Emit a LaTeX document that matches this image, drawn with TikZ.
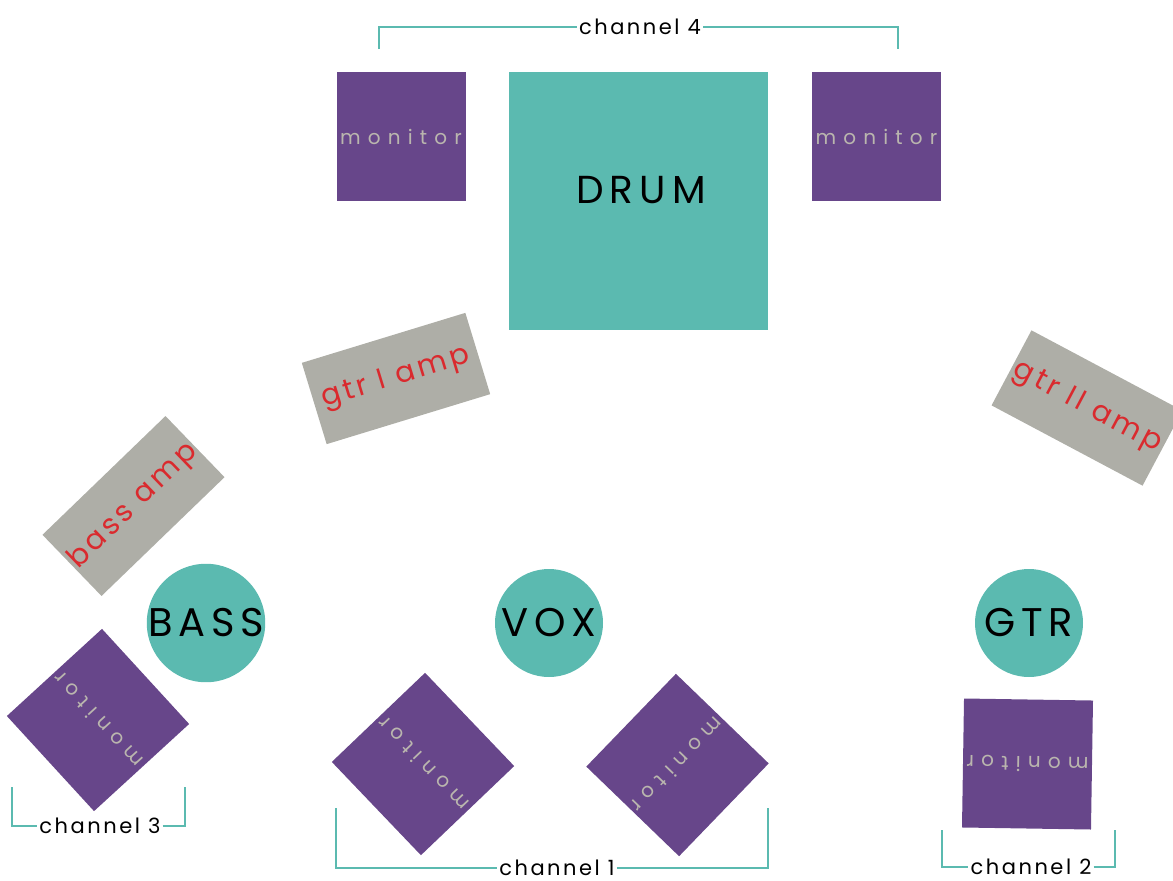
\documentclass[tikz,border=0pt]{standalone}
\usepackage{fontspec}
\setmainfont{Poppins}
\newfontfamily\monfont[LetterSpace=36]{Poppins}
\newfontfamily\ampfont[LetterSpace=12]{Poppins}
\newfontfamily\bigfont[LetterSpace=14]{Poppins}
\newfontfamily\drumfont[LetterSpace=16]{Poppins}
\newfontfamily\chfont[LetterSpace=12]{Poppins}
\definecolor{tealc}{HTML}{5BBAB0}
\definecolor{purp}{HTML}{67468A}
\definecolor{ampgray}{HTML}{AEAEA7}
\definecolor{ampred}{HTML}{DA2A2E}
\definecolor{montext}{HTML}{BAB6AE}
\begin{document}
\begin{tikzpicture}[x=1pt,y=-1pt,
  mon/.style={fill=purp,inner sep=0,minimum width=129pt,minimum height=129pt,
    text=montext,font=\monfont\fontsize{20}{20}\selectfont},
  amp/.style={fill=ampgray,inner sep=0,minimum width=171pt,minimum height=85pt,
    text=ampred,font=\ampfont\fontsize{29}{29}\selectfont},
  player/.style={circle,fill=tealc,inner sep=0,minimum size=108pt,
    font=\bigfont\fontsize{40}{40}\selectfont},
  chlabel/.style={fill=white,inner sep=2pt,font=\chfont\fontsize{21}{21}\selectfont},
  bracket/.style={draw=tealc,line width=1.6pt}]
\useasboundingbox (0,0) rectangle (1173,881);

% drum and top monitors
\node[fill=tealc,inner sep=0,minimum width=259pt,minimum height=258pt] (drum) at (638.5,201) {};
\node[font=\drumfont\fontsize{39}{39}\selectfont] (drumtxt) at (641,190) {DRUM};
\node[mon] (monL) at (401,136.5) {monitor};
\node[mon] (monR) at (876.5,136.5) {monitor};

% channel 4 bracket
\node[chlabel] (ch4) at (640,27) {channel 4};
\coordinate (c4l) at (379,49);
\coordinate (c4r) at (898,49);
\draw[bracket] (c4l) |- (ch4.west);
\draw[bracket] (ch4.east) -| (c4r);

% amps
\node[amp,rotate=17] (gtr1) at (396,378.5) {gtr I amp};
\node[amp,rotate=-28] (gtr2) at (1087,408) {gtr II amp};
\node[amp,rotate=44] (bassamp) at (133.5,506) {bass amp};

% players
\node[player] (bass) at (206,623) {BASS};
\node[player] (vox) at (549,623) {VOX};
\node[player] (gtr) at (1029,623) {GTR};

% floor monitors
\node[mon,rotate=132.5] (monB) at (98,720) {monitor};
\node[mon,rotate=133.7] (mon1L) at (423,764) {monitor};
\node[mon,rotate=226] (mon1R) at (677.5,765) {monitor};
\node[mon,rotate=179.1] (monG) at (1027.5,764) {monitor};

% channel 3
\node[chlabel] (ch3) at (100,826) {channel 3};
\coordinate (c3l) at (12,787);
\coordinate (c3r) at (185,787);
\draw[bracket] (c3l) |- (ch3.west);
\draw[bracket] (ch3.east) -| (c3r);

% channel 1
\node[chlabel] (ch1) at (557,868) {channel 1};
\coordinate (c1l) at (336,808);
\coordinate (c1r) at (768,808);
\draw[bracket] (c1l) |- (ch1.west);
\draw[bracket] (ch1.east) -| (c1r);

% channel 2
\node[chlabel] (ch2) at (1031,867) {channel 2};
\coordinate (c2l) at (942,830);
\coordinate (c2r) at (1115,830);
\draw[bracket] (c2l) |- (ch2.west);
\draw[bracket] (ch2.east) -| (c2r);
\end{tikzpicture}
\end{document}
